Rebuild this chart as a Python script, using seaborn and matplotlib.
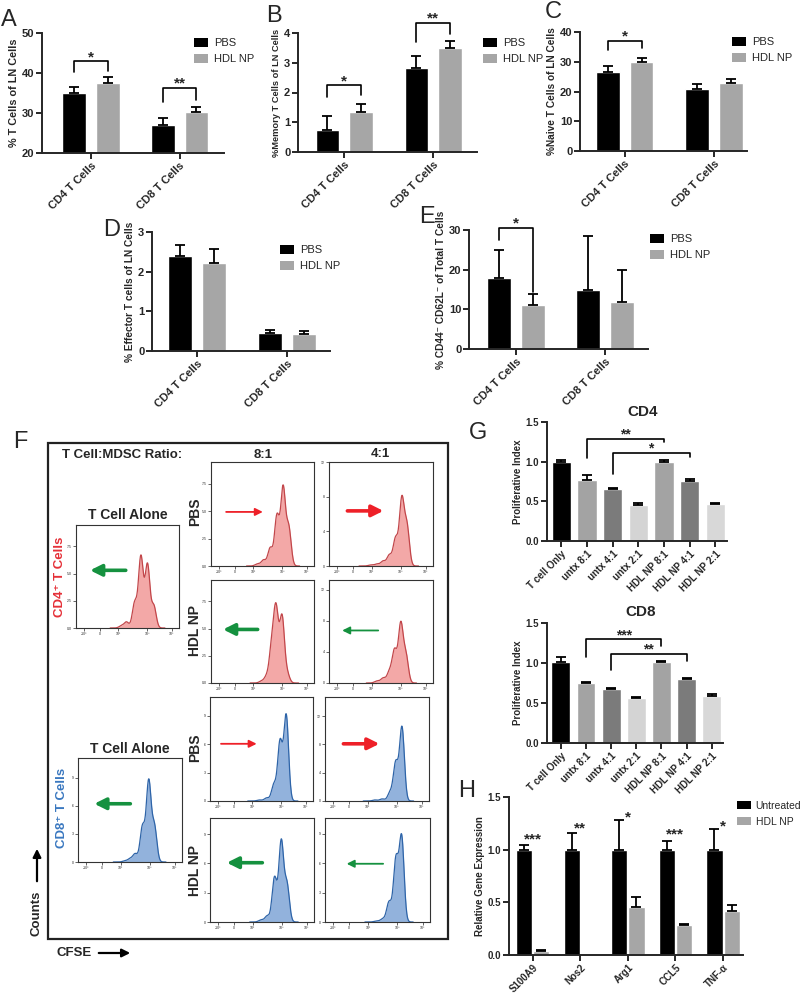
import numpy as np
import pandas as pd
import seaborn as sns
import matplotlib
matplotlib.use('Agg')
import matplotlib.pyplot as plt
from matplotlib.patches import Patch, Rectangle, FancyArrowPatch

# ---------------------------------------------------------
# data
# ---------------------------------------------------------
cells = ['CD4 T Cells', 'CD8 T Cells']
groups = ['PBS', 'HDL NP']

a_pbs, a_pbs_err = [35.0, 27.1], [1.6, 1.7]
a_hdl, a_hdl_err = [37.4, 30.3], [1.5, 1.2]
b_pbs, b_pbs_err = [0.75, 2.83], [0.45, 0.40]
b_hdl, b_hdl_err = [1.36, 3.48], [0.25, 0.25]
c_pbs, c_pbs_err = [26.5, 21.0], [2.2, 1.6]
c_hdl, c_hdl_err = [29.9, 22.7], [1.5, 1.5]
d_pbs, d_pbs_err = [2.39, 0.45], [0.27, 0.07]
d_hdl, d_hdl_err = [2.23, 0.42], [0.34, 0.09]
e_pbs, e_pbs_err = [18.0, 15.0], [6.9, 13.6]
e_hdl, e_hdl_err = [11.0, 11.9], [2.9, 8.0]

# significance brackets: (cell index, label, top, left leg end, right leg end)
a_sig = [(0, '*', 43.0, 40.3, 40.4), (1, '**', 36.3, 32.8, 33.3)]
b_sig = [(0, '*', 2.25, 1.86, 1.91), (1, '**', 4.35, 3.70, 3.98)]
c_sig = [(0, '*', 37.0, 33.9, 34.5)]
e_sig = [(0, '*', 30.6, 27.6, 14.3)]

g_labels = ['T cell Only', 'untx 8:1', 'untx 4:1', 'untx 2:1',
            'HDL NP 8:1', 'HDL NP 4:1', 'HDL NP 2:1']
g_colors = ['#000000', '#a3a3a3', '#7b7b7b', '#d4d4d4', '#a3a3a3', '#7b7b7b', '#d8d8d8']
cd4_prolif = [1.00, 0.765, 0.651, 0.458, 0.992, 0.756, 0.466]
cd4_prolif_err = [0.02, 0.067, 0.021, 0.025, 0.033, 0.030, 0.017]
cd8_prolif = [1.01, 0.754, 0.679, 0.561, 1.018, 0.796, 0.587]
cd8_prolif_err = [0.07, 0.013, 0.012, 0.013, 0.012, 0.021, 0.020]
# (left bar, right bar, label, top, left leg end, right leg end)
cd4_sig = [(1, 4, '**', 1.29, 1.05, 1.25), (2, 5, '*', 1.113, 0.85, 1.06)]
cd8_sig = [(1, 4, '***', 1.30, 1.08, 1.215), (2, 5, '**', 1.115, 0.91, 1.03)]

genes = ['S100A9', 'Nos2', 'Arg1', 'CCL5', 'TNF-α']
gene_groups = ['Untreated', 'HDL NP']
h_untreated = [1.0, 1.0, 1.0, 1.0, 1.0]
h_untreated_err = [0.046, 0.157, 0.284, 0.078, 0.196]
h_hdl = [0.035, 0.0, 0.453, 0.285, 0.42]
h_hdl_err = [0.009, np.nan, 0.096, 0.013, 0.056]
h_stars = ['***', '**', '*', '***', '*']
h_star_y = [1.057, 1.167, 1.267, 1.107, 1.187]

# CFSE histograms: generation peak positions (fraction of axis) and peak heights
cd4_alone_pos = [0.44, 0.49, 0.57, 0.63, 0.694, 0.755]
cd4_alone_h = [0.02, 0.06, 0.25, 0.71, 0.63, 0.22]
cd4_pbs8_pos = [0.45, 0.51, 0.575, 0.64, 0.70, 0.755]
cd4_pbs8_h = [0.02, 0.06, 0.18, 0.50, 0.78, 0.38]
cd4_pbs4_pos = [0.40, 0.46, 0.52, 0.58, 0.64, 0.70, 0.75]
cd4_pbs4_h = [0.01, 0.02, 0.05, 0.11, 0.28, 0.68, 0.40]
cd4_hdl8_pos = [0.49, 0.54, 0.59, 0.632, 0.69, 0.74]
cd4_hdl8_h = [0.02, 0.07, 0.40, 0.78, 0.72, 0.10]
cd4_hdl4_pos = [0.46, 0.52, 0.58, 0.63, 0.69, 0.74]
cd4_hdl4_h = [0.02, 0.05, 0.11, 0.33, 0.60, 0.28]
cd8_alone_pos = [0.45, 0.50, 0.55, 0.62, 0.68, 0.735]
cd8_alone_h = [0.01, 0.03, 0.08, 0.35, 0.80, 0.35]
cd8_pbs8_pos = [0.48, 0.55, 0.62, 0.68, 0.74]
cd8_pbs8_h = [0.01, 0.03, 0.16, 0.58, 0.84]
cd8_pbs4_pos = [0.48, 0.55, 0.625, 0.68, 0.74]
cd8_pbs4_h = [0.01, 0.02, 0.08, 0.37, 0.72]
cd8_hdl8_pos = [0.49, 0.55, 0.62, 0.685, 0.74]
cd8_hdl8_h = [0.02, 0.06, 0.44, 0.80, 0.37]
cd8_hdl4_pos = [0.49, 0.55, 0.61, 0.675, 0.73]
cd8_hdl4_h = [0.01, 0.03, 0.20, 0.62, 0.85]
cfse_ticks = ['-10³', '0', '10³', '10⁴', '10⁵']

# ---------------------------------------------------------
# style
# ---------------------------------------------------------
sns.set_style('ticks')
plt.rcParams['font.family'] = ['Liberation Sans', 'DejaVu Sans']
BLACK, GRAY = '#000000', '#a6a6a6'
RED_TXT, BLUE_TXT = '#e53038', '#3a78c0'
W, H = 800, 994
fig = plt.figure(figsize=(W / 100, H / 100), dpi=100)


def add_ax(x0, y0, x1, y1):
    return fig.add_axes([x0 / W, 1 - y1 / H, (x1 - x0) / W, (y1 - y0) / H])


def prism(ax, ylim, yticks, ylabel, xlim, fmt='{:g}', tick_fs=7, label_fs=7):
    sns.despine(ax=ax)
    ax.set_ylim(*ylim)
    ax.set_xlim(*xlim)
    ax.set_yticks(yticks)
    ax.set_yticklabels([fmt.format(t) for t in yticks])
    ax.spines[['left', 'bottom']].set_linewidth(1.4)
    ax.tick_params(width=1.4, length=4, labelsize=tick_fs, pad=1.5)
    ax.set_ylabel(ylabel, fontsize=label_fs, fontweight='bold', labelpad=2)
    ax.set_xlabel('')
    plt.setp(ax.get_xticklabels(), rotation=45, ha='right', rotation_mode='anchor', fontweight='bold')
    plt.setp(ax.get_yticklabels(), fontweight='bold')


def legend_at(ax, labels, colors, x, y, fs=8):
    handles = [Patch(facecolor=c, edgecolor='none') for c in colors]
    ax.legend(handles, labels, loc='upper left', bbox_to_anchor=(x / W, 1 - y / H),
              bbox_transform=fig.transFigure, frameon=False, fontsize=fs,
              handlelength=1.3, handleheight=0.8, handletextpad=0.5,
              labelspacing=0.55, borderaxespad=0, borderpad=0)


def add_errors(ax, patches, errs):
    for p, e in zip(patches, errs):
        if not np.isfinite(e):
            continue
        xc = p.get_x() + p.get_width() / 2
        ax.errorbar(xc, p.get_height(), yerr=[[0], [e]], fmt='none', ecolor='black',
                    elinewidth=1.3, capsize=3.5, capthick=1.3, clip_on=False)


def bracket(ax, x1, x2, label, top, l1, l2, fs=11):
    ax.plot([x1, x1, x2, x2], [l1, top, top, l2], color='black', lw=1.2, clip_on=False)
    ax.text((x1 + x2) / 2, top, label, ha='center', va='baseline', fontsize=fs,
            fontweight='bold', clip_on=False)


def paired_panel(box, pbs, pbs_err, hdl, hdl_err, ylim, yticks, ylabel, xlim, sig, leg_xy, label_fs=7.8):
    ax = add_ax(*box)
    df = pd.DataFrame({'cell': cells * 2,
                       'group': [groups[0]] * 2 + [groups[1]] * 2,
                       'value': pbs + hdl})
    sns.barplot(data=df, x='cell', y='value', hue='group', palette=[BLACK, GRAY],
                width=0.76, gap=0.3, saturation=1, errorbar=None, legend=False, ax=ax)
    add_errors(ax, ax.containers[0].patches, pbs_err)
    add_errors(ax, ax.containers[1].patches, hdl_err)
    centers = [[p.get_x() + p.get_width() / 2 for p in c.patches] for c in ax.containers[:2]]
    for i, lab, top, l1, l2 in sig:
        bracket(ax, centers[0][i], centers[1][i], lab, top, l1, l2)
    prism(ax, ylim, yticks, ylabel, xlim, tick_fs=8, label_fs=label_fs)
    legend_at(ax, groups, [BLACK, GRAY], *leg_xy)
    return ax


# ---------------------------------------------------------
# A - E
# ---------------------------------------------------------
paired_panel((42, 33, 224, 153), a_pbs, a_pbs_err, a_hdl, a_hdl_err, (20, 50), [20, 30, 40, 50],
             '% T Cells of LN Cells', (-0.55, 1.5), a_sig, (194, 38))
paired_panel((298, 33, 477, 152), b_pbs, b_pbs_err, b_hdl, b_hdl_err, (0, 4), [0, 1, 2, 3, 4],
             '%Memory T Cells of LN Cells', (-0.52, 1.49), b_sig, (483, 38), label_fs=6.7)
paired_panel((580, 32, 747, 151), c_pbs, c_pbs_err, c_hdl, c_hdl_err, (0, 40), [0, 10, 20, 30, 40],
             '%Naive T Cells of LN Cells', (-0.5, 1.37), c_sig, (732, 37), label_fs=7.3)
paired_panel((152, 232, 330, 351), d_pbs, d_pbs_err, d_hdl, d_hdl_err, (0, 3), [0, 1, 2, 3],
             '% Effector T cells of LN Cells', (-0.5, 1.48), [], (280, 245), label_fs=7.3)
paired_panel((469, 230, 648, 349), e_pbs, e_pbs_err, e_hdl, e_hdl_err, (0, 30), [0, 10, 20, 30],
             '% CD44⁻ CD62L⁻ of Total T Cells', (-0.53, 1.48), e_sig, (650, 234), label_fs=7.3)

# ---------------------------------------------------------
# F - CFSE dilution histograms
# ---------------------------------------------------------
SIGMA = 0.023


def cfse_hist(box, pos, heights, fill, edge, arrow):
    ax = add_ax(*box)
    pos, heights = np.array(pos), np.array(heights)
    bw = SIGMA / np.sqrt(np.cov(pos, aweights=heights))
    sns.kdeplot(x=pos, weights=heights, bw_method=bw, fill=True, color=fill, alpha=1,
                linewidth=0, ax=ax)
    sns.kdeplot(x=pos, weights=heights, bw_method=bw, color=edge, linewidth=0.9, ax=ax)
    top = ax.lines[-1].get_ydata().max()
    ax.set_ylim(0, top / heights.max())
    ax.set_xlim(0, 1)
    ax.set_xticks([0.08, 0.23, 0.41, 0.69, 0.93])
    ax.set_xticklabels(cfse_ticks)
    ax.yaxis.set_major_locator(plt.MaxNLocator(4))
    ax.tick_params(labelsize=2.5, length=2, width=0.5, pad=1)
    ax.set_xlabel('')
    ax.set_ylabel('')
    for s in ax.spines.values():
        s.set_linewidth(0.8)
        s.set_color('#333333')
    (x0, x1, y), col, thick = arrow
    ax.annotate('', xy=(x1, y), xytext=(x0, y), xycoords='axes fraction',
                arrowprops=dict(arrowstyle='-|>', color=col,
                                lw=2.6 if thick else 1.3,
                                mutation_scale=17 if thick else 11))
    return ax


RED_A, GREEN_A = '#ee2028', '#15913f'
CD4_FILL, CD4_EDGE = '#f3a8a7', '#c2464a'
CD8_FILL, CD8_EDGE = '#92b2dc', '#2e64a8'

cfse_hist((76, 525, 179, 628), cd4_alone_pos, cd4_alone_h, CD4_FILL, CD4_EDGE, ((0.51, 0.11, 0.56), GREEN_A, True))
cfse_hist((211, 462, 314, 566), cd4_pbs8_pos, cd4_pbs8_h, CD4_FILL, CD4_EDGE, ((0.12, 0.53, 0.52), RED_A, False))
cfse_hist((329, 462, 433, 566), cd4_pbs4_pos, cd4_pbs4_h, CD4_FILL, CD4_EDGE, ((0.15, 0.55, 0.53), RED_A, True))
cfse_hist((211, 580, 314, 683), cd4_hdl8_pos, cd4_hdl8_h, CD4_FILL, CD4_EDGE, ((0.48, 0.09, 0.52), GREEN_A, True))
cfse_hist((329, 580, 433, 683), cd4_hdl4_pos, cd4_hdl4_h, CD4_FILL, CD4_EDGE, ((0.50, 0.10, 0.51), GREEN_A, False))
cfse_hist((78, 758, 182, 862), cd8_alone_pos, cd8_alone_h, CD8_FILL, CD8_EDGE, ((0.53, 0.13, 0.56), GREEN_A, True))
cfse_hist((210, 697, 313, 801), cd8_pbs8_pos, cd8_pbs8_h, CD8_FILL, CD8_EDGE, ((0.08, 0.48, 0.55), RED_A, False))
cfse_hist((325, 697, 429, 801), cd8_pbs4_pos, cd8_pbs4_h, CD8_FILL, CD8_EDGE, ((0.15, 0.55, 0.55), RED_A, True))
cfse_hist((210, 818, 314, 922), cd8_hdl8_pos, cd8_hdl8_h, CD8_FILL, CD8_EDGE, ((0.53, 0.135, 0.57), GREEN_A, True))
cfse_hist((325, 818, 430, 922), cd8_hdl4_pos, cd8_hdl4_h, CD8_FILL, CD8_EDGE, ((0.58, 0.18, 0.56), GREEN_A, False))

fig.add_artist(Rectangle((48 / W, 1 - 939 / H), 400 / W, 496 / H, transform=fig.transFigure,
                         fill=False, lw=1.6, ec='#222222'))


def ftext(x, y, s, **kw):
    kw.setdefault('fontweight', 'bold')
    fig.text(x / W, 1 - y / H, s, **kw)


ftext(62, 455, 'T Cell:MDSC Ratio:', fontsize=9.5, va='center', ha='left')
ftext(263, 455, '8:1', fontsize=9.5, va='center', ha='center')
ftext(380, 454, '4:1', fontsize=9.5, va='center', ha='center')
ftext(128, 515, 'T Cell Alone', fontsize=10, va='center', ha='center')
ftext(130, 749, 'T Cell Alone', fontsize=10, va='center', ha='center')
ftext(195, 512, 'PBS', fontsize=10, va='center', ha='center', rotation=90)
ftext(195, 630, 'HDL NP', fontsize=10, va='center', ha='center', rotation=90)
ftext(195, 748, 'PBS', fontsize=10, va='center', ha='center', rotation=90)
ftext(195, 870, 'HDL NP', fontsize=10, va='center', ha='center', rotation=90)
ftext(60, 577, 'CD4⁺ T Cells', fontsize=9.5, va='center', ha='center', rotation=90, color=RED_TXT)
ftext(62, 808, 'CD8⁺ T Cells', fontsize=9.5, va='center', ha='center', rotation=90, color=BLUE_TXT)
ftext(37, 913, 'Counts', fontsize=9.5, va='center', ha='center', rotation=90)
ftext(57, 953, 'CFSE', fontsize=9.5, va='center', ha='left')
fig.add_artist(FancyArrowPatch((37 / W, 1 - 884 / H), (37 / W, 1 - 846 / H), transform=fig.transFigure,
                               arrowstyle='-|>', mutation_scale=12, lw=1.6, color='black'))
fig.add_artist(FancyArrowPatch((96 / W, 1 - 953 / H), (133 / W, 1 - 953 / H), transform=fig.transFigure,
                               arrowstyle='-|>', mutation_scale=12, lw=1.6, color='black'))

# ---------------------------------------------------------
# G - proliferative index
# ---------------------------------------------------------


def prolif_panel(box, vals, errs, sig, title, title_y):
    ax = add_ax(*box)
    sns.barplot(x=g_labels, y=vals, hue=g_labels, palette=g_colors, width=0.75,
                saturation=1, errorbar=None, legend=False, ax=ax)
    bars = sorted([p for p in ax.patches if np.isfinite(p.get_height())], key=lambda p: p.get_x())
    add_errors(ax, bars, errs)
    centers = [p.get_x() + p.get_width() / 2 for p in bars]
    for i, j, lab, top, l1, l2 in sig:
        bracket(ax, centers[i], centers[j], lab, top, l1, l2, fs=10)
    prism(ax, (0, 1.5), [0.0, 0.5, 1.0, 1.5], 'Proliferative Index', (-0.55, 6.45), fmt='{:.1f}')
    ftext((box[0] + box[2]) / 2 + 6, title_y, title, fontsize=11, ha='center', va='center')
    return ax


prolif_panel((547, 422, 727, 541), cd4_prolif, cd4_prolif_err, cd4_sig, 'CD4', 412)
prolif_panel((547, 623, 723, 743), cd8_prolif, cd8_prolif_err, cd8_sig, 'CD8', 612)

# ---------------------------------------------------------
# H - gene expression
# ---------------------------------------------------------
axh = add_ax(509, 797, 743, 955)
dfh = pd.DataFrame({'gene': genes * 2,
                    'group': [gene_groups[0]] * 5 + [gene_groups[1]] * 5,
                    'value': h_untreated + h_hdl})
sns.barplot(data=dfh, x='gene', y='value', hue='group', palette=[BLACK, GRAY], width=0.72,
            gap=0.06, saturation=1, errorbar=None, legend=False, ax=axh)
add_errors(axh, axh.containers[0].patches, h_untreated_err)
add_errors(axh, axh.containers[1].patches, h_hdl_err)
for i, (s, y) in enumerate(zip(h_stars, h_star_y)):
    axh.text(i, y, s, ha='center', va='baseline', fontsize=11, fontweight='bold', clip_on=False)
prism(axh, (0, 1.5), [0.0, 0.5, 1.0, 1.5], 'Relative Gene Expression', (-0.5, 4.42),
      fmt='{:.1f}', tick_fs=7)
legend_at(axh, gene_groups, [BLACK, GRAY], 737, 801, fs=7.5)

# ---------------------------------------------------------
# panel letters
# ---------------------------------------------------------
for letter, x, y in [('A', 1, 26), ('B', 266, 22), ('C', 545, 18), ('D', 103, 236), ('E', 419, 223),
                     ('F', 13, 448), ('G', 469, 439), ('H', 458, 797)]:
    ftext(x, y, letter, fontsize=17, fontweight='normal', ha='left', va='baseline')

fig.savefig('out.png', dpi=100)
